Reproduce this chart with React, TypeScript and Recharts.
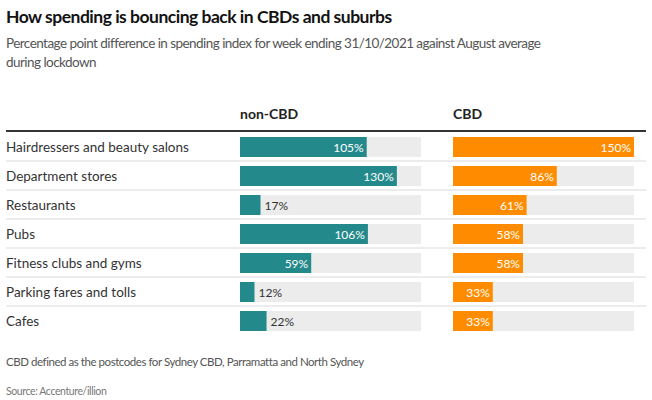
import React from 'react';
import { BarChart, Bar, XAxis, YAxis, LabelList } from 'recharts';

const categories = [
  'Hairdressers and beauty salons',
  'Department stores',
  'Restaurants',
  'Pubs',
  'Fitness clubs and gyms',
  'Parking fares and tolls',
  'Cafes'
];
const nonCbdValues = [105, 130, 17, 106, 59, 12, 22];
const cbdValues = [150, 86, 61, 58, 58, 33, 33];
const seriesNames = ['non-CBD', 'CBD'];

const data = categories.map((name, i) => ({ name, nonCbd: nonCbdValues[i], cbd: cbdValues[i] }));

const FONT = 'Lato, "Noto Sans", sans-serif';
const TEAL = '#23898b';
const ORANGE = '#ff8c00';
const TRACK = '#ececec';
const ROW_H = 29;
const CHART_H = ROW_H * categories.length;

const CategoryTick = (props: any) => {
  const { y, payload, index } = props;
  return (
    <g>
      <text x={6} y={y} dy={5} fontSize={13.5} fill="#333" fontFamily={FONT} textAnchor="start">
        {payload.value}
      </text>
      {index < categories.length - 1 && (
        <line x1={6} x2={646} y1={y + ROW_H / 2} y2={y + ROW_H / 2} stroke="#e6e6e6" strokeWidth={1.5} />
      )}
    </g>
  );
};

const ValueLabel = (props: any) => {
  const { x, y, width, height, value } = props;
  const inside = width >= 30;
  return (
    <text
      x={inside ? x + width - 3 : x + width + 4}
      y={y + height / 2}
      dy={4.5}
      fontSize={12}
      fontFamily={FONT}
      fill={inside ? '#fff' : '#333'}
      textAnchor={inside ? 'end' : 'start'}
    >
      {`${value}%`}
    </text>
  );
};

export default function App() {
  return (
    <div style={{ position: 'absolute', left: 0, top: 0, width: 652, height: 400, background: '#fff', fontFamily: FONT }}>
      <div style={{ position: 'absolute', left: 6, top: 6, fontSize: 17.5, letterSpacing: -0.5, fontWeight: 700, color: '#121212', whiteSpace: 'nowrap' }}>
        How spending is bouncing back in CBDs and suburbs
      </div>
      <div style={{ position: 'absolute', left: 6, top: 34, fontSize: 13.5, letterSpacing: -0.55, lineHeight: '19px', color: '#555', whiteSpace: 'nowrap' }}>
        Percentage point difference in spending index for week ending 31/10/2021 against August average
        <br />
        during lockdown
      </div>
      <div style={{ position: 'absolute', left: 240, top: 105, fontSize: 14, fontWeight: 700, color: '#222' }}>{seriesNames[0]}</div>
      <div style={{ position: 'absolute', left: 453, top: 105, fontSize: 14, fontWeight: 700, color: '#222' }}>{seriesNames[1]}</div>
      <div style={{ position: 'absolute', left: 6, top: 130, width: 640, height: 2, background: '#333' }} />

      <div style={{ position: 'absolute', left: 0, top: 132 }}>
        <BarChart width={652} height={CHART_H} layout="vertical" data={data} margin={{ top: 0, right: 231, bottom: 0, left: 6 }}>
          <XAxis type="number" domain={[0, 150]} hide />
          <YAxis type="category" dataKey="name" width={234} axisLine={false} tickLine={false} tick={<CategoryTick />} interval={0} />
          <Bar dataKey="nonCbd" fill={TEAL} background={{ fill: TRACK }} barSize={20} isAnimationActive={false}>
            <LabelList dataKey="nonCbd" content={<ValueLabel />} />
          </Bar>
        </BarChart>
      </div>
      <div style={{ position: 'absolute', left: 0, top: 132 }}>
        <BarChart width={652} height={CHART_H} layout="vertical" data={data} margin={{ top: 0, right: 18, bottom: 0, left: 453 }}>
          <XAxis type="number" domain={[0, 150]} hide />
          <YAxis type="category" dataKey="name" hide />
          <Bar dataKey="cbd" fill={ORANGE} background={{ fill: TRACK }} barSize={20} isAnimationActive={false}>
            <LabelList dataKey="cbd" content={<ValueLabel />} />
          </Bar>
        </BarChart>
      </div>

      <div style={{ position: 'absolute', left: 6, top: 355, fontSize: 11.5, letterSpacing: -0.45, color: '#555', whiteSpace: 'nowrap' }}>
        CBD defined as the postcodes for Sydney CBD, Parramatta and North Sydney
      </div>
      <div style={{ position: 'absolute', left: 6, top: 385, fontSize: 10.5, letterSpacing: -0.4, color: '#777', whiteSpace: 'nowrap' }}>
        Source: Accenture/illion
      </div>
    </div>
  );
}
